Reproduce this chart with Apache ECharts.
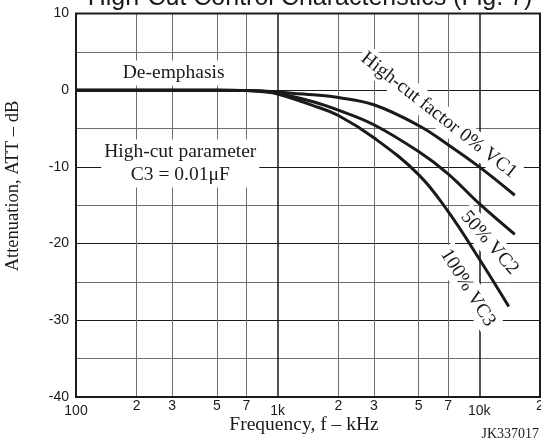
<!DOCTYPE html>
<html><head><meta charset="utf-8">
<script src="https://cdn.jsdelivr.net/npm/echarts@6/dist/echarts.min.js"></script>
<style>html,body{margin:0;padding:0;background:#fff}#c{width:541px;height:443px}</style>
</head><body><div id="c"></div>
<script>
// ---- data ----
const freqA = [100, 300, 500, 700, 850, 1000, 1500, 2000, 3000, 5000, 7000, 10000, 15000];
const freqB = [100, 300, 500, 700, 850, 1000, 1500, 2000, 3000, 5000, 7000, 10000, 15000];
const freqC = [100, 300, 500, 700, 850, 1000, 1500, 2000, 3000, 5000, 7000, 10000, 14000];
const att0pct   = [0, 0, 0, -0.03, -0.1, -0.25, -0.6, -0.95, -1.9, -4.6, -7.1, -10.0, -13.7];
const att50pct  = [0, 0, 0, -0.04, -0.15, -0.4, -1.5, -2.6, -4.5, -8.0, -10.9, -14.8, -18.8];
const att100pct = [0, 0, 0, -0.05, -0.2, -0.5, -2.0, -3.3, -6.2, -11.0, -15.8, -22.0, -28.2];
const tickFreqs  = [100, 200, 300, 500, 700, 1000, 2000, 3000, 5000, 7000, 10000, 20000];
const tickLabels = ['100', '2', '3', '5', '7', '1k', '2', '3', '5', '7', '10k', '2'];
const majorFreqs = [100, 1000, 10000];
const seriesNames = ['High-cut factor 0% VC1', '50% VC2', '100% VC3'];
const annoTexts = ['De-emphasis', 'High-cut parameter\nC3 = 0.01μF', 'High-cut factor 0% VC1', '50% VC2', '100% VC3'];
const annoFreq = [305, 329, 6300, 11250, 8770];
const annoDb   = [2.25, -9.56, -3.26, -19.9, -25.75];
const annoRot  = [0, 0, -38, -49, -58];

const pairs = (fs, vs) => fs.map((f, i) => [f, vs[i]]);
const SERIF = '"Liberation Serif", "Times New Roman", serif';
const SANS = '"Liberation Sans", Arial, sans-serif';
const INK = '#1a1a1a';

const chart = echarts.init(document.getElementById('c'), null, {renderer: 'canvas'});

const gridMarks = tickFreqs.map((f, i) => {
  const major = majorFreqs.includes(f);
  return {
    xAxis: f,
    lineStyle: {color: major ? INK : '#6e6e6e', width: major ? 1.5 : 1, type: 'solid'},
    label: {formatter: tickLabels[i], distance: major ? 7 : 2}
  };
});

const lineSeries = (name, data, extra) => Object.assign({
  name, type: 'line', data, showSymbol: false, smooth: 0.4,
  lineStyle: {color: INK, width: 3}, z: 4, silent: true
}, extra || {});

chart.setOption({
  animation: false,
  backgroundColor: '#fff',
  grid: {left: 76, right: 1, top: 13.5, bottom: 46, show: true, borderColor: INK, borderWidth: 2, backgroundColor: 'transparent', z: 3},
  xAxis: {
    type: 'log', logBase: 10, min: 100, max: 20000,
    axisLine: {show: false}, axisTick: {show: false}, axisLabel: {show: false}, splitLine: {show: false}
  },
  yAxis: {
    type: 'value', min: -40, max: 10, interval: 10,
    axisLine: {show: false}, axisTick: {show: false},
    axisLabel: {color: INK, fontSize: 14, fontFamily: SANS, margin: 7},
    splitLine: {show: true, lineStyle: {color: INK, width: 1}},
    minorTick: {show: false, splitNumber: 2},
    minorSplitLine: {show: true, lineStyle: {color: '#6e6e6e', width: 1}}
  },
  series: [
    lineSeries(seriesNames[0], pairs(freqA, att0pct), {
      markLine: {
        silent: true, symbol: ['none', 'none'], z: 1, animation: false,
        emphasis: {disabled: true},
        label: {show: true, position: 'start', color: INK, fontSize: 14, fontFamily: SANS},
        data: gridMarks
      }
    }),
    lineSeries(seriesNames[1], pairs(freqB, att50pct)),
    lineSeries(seriesNames[2], pairs(freqC, att100pct))
  ]
});

const graphics = [
  {type: 'text', x: 310, y: -1.5, z: 10, style: {text: 'High-Cut Control Characteristics (Fig. 7)', font: '25px ' + SANS, fill: INK, align: 'center', verticalAlign: 'middle'}},
  {type: 'text', x: 13.5, y: 186, rotation: Math.PI / 2, z: 10, style: {text: 'Attenuation, ATT – dB', font: '18.5px ' + SERIF, fill: INK, align: 'center', verticalAlign: 'middle'}},
  {type: 'text', x: 304, y: 425, z: 10, style: {text: 'Frequency, f – kHz', font: '19.5px ' + SERIF, fill: INK, align: 'center', verticalAlign: 'middle'}},
  {type: 'text', x: 539, y: 434, z: 10, style: {text: 'JK337017', font: '14px ' + SERIF, fill: INK, align: 'right', verticalAlign: 'middle'}}
];
annoTexts.forEach((t, i) => {
  const p = chart.convertToPixel({gridIndex: 0}, [annoFreq[i], annoDb[i]]);
  graphics.push({
    type: 'text', x: p[0], y: p[1], rotation: annoRot[i] * Math.PI / 180, z: 2,
    style: {text: t, font: '19.5px ' + SERIF, fill: INK, align: 'center', verticalAlign: 'middle',
      lineHeight: 23, backgroundColor: '#fff', padding: [1, 3]}
  });
});
chart.setOption({graphic: graphics});
</script>
</body></html>
